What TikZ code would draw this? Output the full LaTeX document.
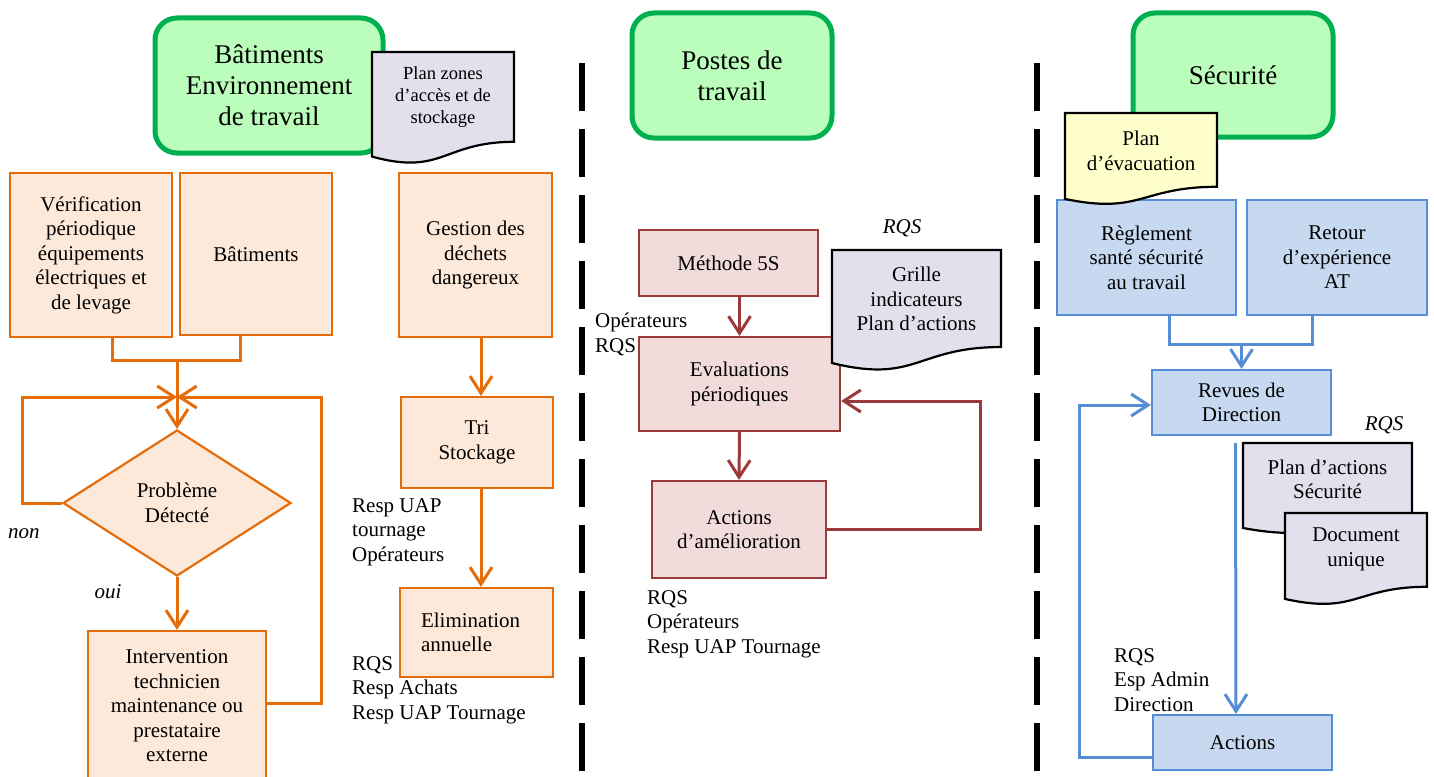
\documentclass[tikz,border=0pt]{standalone}
\usepackage{fontspec}
\setmainfont{Liberation Serif}
\usetikzlibrary{arrows.meta,shapes.geometric,calc}

\definecolor{gstroke}{HTML}{00B050}
\definecolor{gfill}{HTML}{BBFEBB}
\definecolor{ostroke}{HTML}{E46C0A}
\definecolor{ofill}{HTML}{FDE9D9}
\definecolor{rstroke}{HTML}{9B3A3A}
\definecolor{rfill}{HTML}{F2DCDB}
\definecolor{bstroke}{HTML}{558ED5}
\definecolor{bfill}{HTML}{C6D9F1}
\definecolor{docfill}{HTML}{E4DFEC}
\definecolor{yfill}{HTML}{FFFFCC}

\newcommand{\bodyfont}{\fontsize{21}{24.5}\selectfont}
\newcommand{\titlefont}{\fontsize{27}{31}\selectfont}
\newcommand{\smallfont}{\fontsize{18.5}{22}\selectfont}

\newcommand{\mydoc}[5]{%
  \draw[docline, fill=#1] (#2,#3) -- (#4,#3) -- (#4,{#3+0.802*#5})
    .. controls ({(#2+#4)/2},{#3+0.802*#5}) and ({(#2+#4)/2},{#3+1.1075*#5}) ..
    (#2,{#3+0.934*#5}) -- cycle;}

\tikzset{
  titlebox/.style={draw=gstroke, fill=gfill, line width=5pt, rounded corners=22pt,
    align=center, font=\titlefont, inner sep=0pt},
  obox/.style={draw=ostroke, fill=ofill, line width=2.2pt, align=center, font=\bodyfont, inner sep=0pt},
  rbox/.style={draw=rstroke, fill=rfill, line width=2.2pt, align=center, font=\bodyfont, inner sep=0pt},
  bbox/.style={draw=bstroke, fill=bfill, line width=2.2pt, align=center, font=\bodyfont, inner sep=0pt},
  docline/.style={draw=black, line width=2.2pt},
  doctext/.style={align=center, font=\bodyfont, inner sep=0pt},
  lab/.style={align=left, font=\bodyfont, inner sep=0pt, anchor=west},
  itlab/.style={font=\bodyfont\itshape, inner sep=0pt},
  arr/.style={-{Straight Barb[length=17pt,width=22pt]}},
  oline/.style={draw=ostroke, line width=3pt},
  rline/.style={draw=rstroke, line width=3pt},
  bline/.style={draw=bstroke, line width=3pt},
  sepline/.style={draw=black, line width=6pt, dash pattern=on 48pt off 18pt},
}

\begin{document}
\begin{tikzpicture}[x=1pt,y=-1pt]
\useasboundingbox (0,0) rectangle (1434,776);
\clip (0,0) rectangle (1434,776);

% separators
\coordinate (s1a) at (582,63); \coordinate (s1b) at (582,800);
\coordinate (s2a) at (1037,63); \coordinate (s2b) at (1037,800);
\draw[sepline] (s1a) -- (s1b);
\draw[sepline] (s2a) -- (s2b);

% ---------- left column ----------
\node[titlebox, minimum width=228pt, minimum height=135pt] (tA) at (269,85.5) {Bâtiments\\Environnement\\de travail};
\node[obox, minimum width=162pt, minimum height=164pt] (verif) at (91,255) {Vérification\\périodique\\équipements\\électriques et\\de levage};
\node[obox, minimum width=152pt, minimum height=162pt] (bati) at (256,254) {Bâtiments};
\node[obox, minimum width=153pt, minimum height=164pt] (gestion) at (475.5,255) {Gestion des\\déchets\\dangereux};
\node[obox, minimum width=152pt, minimum height=91pt] (tri) at (477,442.5) {Tri\\Stockage};
\node[obox, minimum width=153pt, minimum height=89pt, align=left, text width=111pt] (elim) at (476.5,632.5) {Elimination\\annuelle};
\node[obox, shape=diamond, aspect=1.56, minimum width=228pt, minimum height=146pt] (diam) at (177,503) {Problème\\Détecté};
\node[obox, minimum width=178.5pt, minimum height=150pt] (interv) at (177,706) {Intervention\\technicien\\maintenance ou\\prestataire\\externe};

\mydoc{docfill}{372}{52}{514}{112}
\node[doctext, font=\smallfont] (dA) at (443,97) {Plan zones\\d’accès et de\\stockage};

\node[itlab] (non) at (24,534) {non};
\node[itlab] (oui) at (108,592) {oui};
\node[lab] (l1) at (352,532) {Resp UAP\\tournage\\Opérateurs};
\node[lab] (l2) at (352,690) {RQS\\Resp Achats\\Resp UAP Tournage};

\coordinate (jA) at (177,360);
\coordinate (jB) at (177,397);
\coordinate (lA) at (22,397);
\coordinate (rA) at (321,397);
\coordinate (ax) at (481,0);
\draw[oline] ([xshift=21.5pt]verif.south) |- (jA) -| ([xshift=-16pt]bati.south);
\draw[oline, arr] (jA) -- (diam.north);
\draw[oline, arr] (diam.west) -- (diam.west -| lA) |- (jB);
\draw[oline, arr] ([yshift=3pt]interv.east) -- ([yshift=3pt]interv.east -| rA) |- (jB);
\draw[oline, arr] (diam.south) -- (interv.north);
\draw[oline, arr] (gestion.south -| ax) -- (tri.north -| ax);
\draw[oline, arr] (tri.south -| ax) -- (elim.north -| ax);

% ---------- middle column ----------
\node[titlebox, minimum width=200pt, minimum height=125pt] (tB) at (732,75.5) {Postes de\\travail};
\node[rbox, minimum width=179pt, minimum height=66pt] (methode) at (728.5,263) {Méthode 5S};
\node[rbox, minimum width=201pt, minimum height=94pt] (evals) at (739.5,384) {Evaluations\\périodiques};
\node[rbox, minimum width=174pt, minimum height=97pt] (actd) at (739,529.5) {Actions\\d’amélioration};

\mydoc{docfill}{832}{250}{1001}{121}
\node[doctext] (dB) at (916.5,299) {Grille\\indicateurs\\Plan d’actions};
\node[itlab] (rqsB) at (902,228) {RQS};
\node[lab] (l3) at (595,334.5) {Opérateurs\\RQS};
\node[lab] (l4) at (647,624) {RQS\\Opérateurs\\Resp UAP Tournage};

\coordinate (mr) at (980,401);
\draw[rline, arr] (methode.south -| evals.north) -- (evals.north);
\draw[rline, arr] (evals.south) -- (actd.north);
\draw[rline, arr] (actd.east) -| (mr) -- (evals.east |- mr);

% ---------- right column ----------
\node[titlebox, minimum width=200pt, minimum height=124pt] (tC) at (1233,75) {Sécurité};
\node[bbox, minimum width=179pt, minimum height=115pt] (regl) at (1146.5,257.5) {Règlement\\santé sécurité\\au travail};
\node[bbox, minimum width=180pt, minimum height=115pt] (retour) at (1337,257.5) {Retour\\d’expérience\\AT};
\node[bbox, minimum width=179pt, minimum height=65pt] (revues) at (1241.5,402.5) {Revues de\\Direction};
\node[bbox, minimum width=179pt, minimum height=55pt] (actions) at (1242.5,742.5) {Actions};

\mydoc{yfill}{1065}{113}{1217}{92}
\node[doctext] (dC) at (1141,151) {Plan\\d’évacuation};
\mydoc{docfill}{1243}{443}{1412}{91}
\node[doctext] (dD) at (1327.5,479.5) {Plan d’actions\\Sécurité};
\mydoc{docfill}{1285}{513}{1427}{92}
\node[doctext] (dE) at (1356,549.5) {Document\\unique};

\node[itlab] (rqsC) at (1384,425) {RQS};
\node[lab] (l5) at (1114,680) {RQS\\Esp Admin\\Direction};

\coordinate (jr) at (1241.5,344);
\coordinate (lr) at (1079,405);
\draw[bline] ([xshift=22.5pt]regl.south) |- (jr) -| ([xshift=-25pt]retour.south);
\draw[bline, arr] (jr) -- (revues.north);
\draw[bline, arr] ([xshift=-6pt,yshift=-7pt]revues.south) -- ([xshift=-6.5pt]actions.north);
\draw[bline, arr] ([yshift=-14.5pt]actions.west) -| (lr) -- (revues.west |- lr);
\end{tikzpicture}
\end{document}
